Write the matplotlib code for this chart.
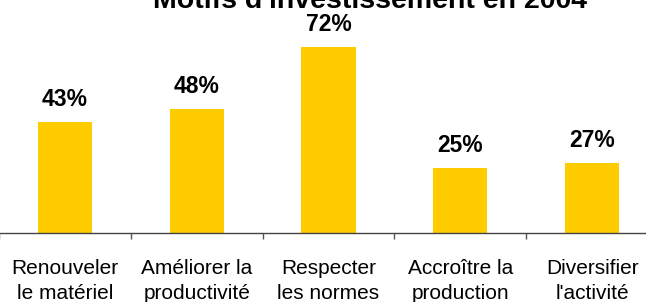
import numpy as np
import matplotlib.pyplot as plt
from matplotlib.ticker import FixedLocator

plt.rcParams['font.family'] = ['Liberation Sans', 'DejaVu Sans']

# data
categories = ['Renouveler\nle matériel', 'Améliorer la\nproductivité', 'Respecter\nles normes',
              'Accroître la\nproduction', 'Diversifier\nl\'activité']
values = [43, 48, 72, 25, 27]
title = "Motifs d'investissement en 2004"

fig = plt.figure(figsize=(6.46, 3.02), dpi=100)
ax = fig.add_axes([-1 / 646, 69 / 302, 659 / 646, 206.6 / 302])

x = np.arange(len(values))
bars = ax.bar(x, values, width=0.41, color='#FFCC00')

for xi, v in zip(x, values):
    ax.annotate(f'{v}%', (xi, v), xytext=(0, 8), textcoords='offset points',
                ha='center', va='bottom', fontsize=16.5, fontweight='bold', clip_on=False)

ax.set_xlim(-0.5, len(values) - 0.5)
ax.set_ylim(0, 80)

ax.set_xticks(x)
ax.set_xticklabels(categories, fontsize=15, linespacing=1.38)
ax.tick_params(axis='x', which='major', length=0, pad=19)
ax.xaxis.set_minor_locator(FixedLocator(np.arange(len(values) + 1) - 0.5))
ax.tick_params(axis='x', which='minor', length=4.5, width=1, color='#555555', direction='out')
ax.set_yticks([])

for s in ['top', 'right', 'left']:
    ax.spines[s].set_visible(False)
ax.spines['bottom'].set_color('#444444')
ax.spines['bottom'].set_linewidth(1)

fig.text(370 / 646, 1 - 8 / 302, title, ha='center', va='baseline',
         fontsize=20.5, fontweight='bold')

fig.savefig('out.png', dpi=100)
